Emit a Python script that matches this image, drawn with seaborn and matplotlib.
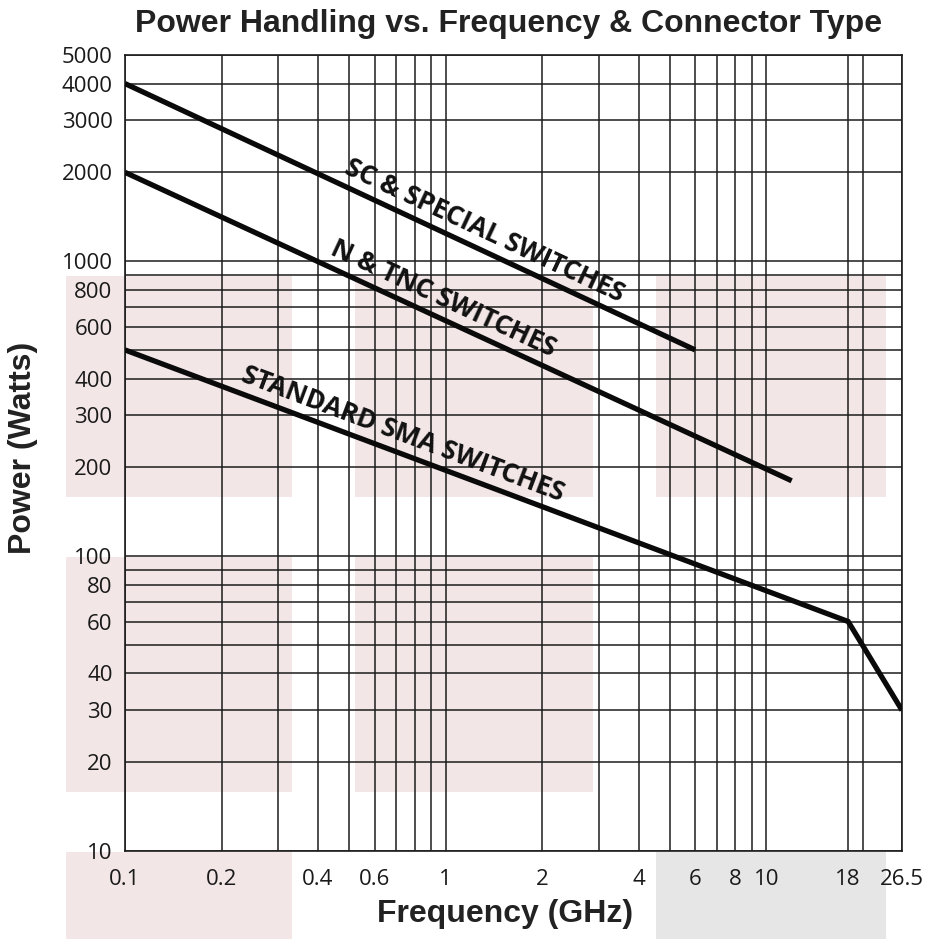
import numpy as np
import pandas as pd
import matplotlib
matplotlib.use("Agg")
import matplotlib.pyplot as plt
from matplotlib.patches import Rectangle
from matplotlib.ticker import FixedLocator, NullLocator, FixedFormatter
import seaborn as sns

# ---- data ----
series_names = ["SC & SPECIAL SWITCHES", "N & TNC SWITCHES", "STANDARD SMA SWITCHES"]
sc_freq = [0.1, 6]
sc_power = [4000, 500]
n_freq = [0.1, 12]
n_power = [2000, 180]
sma_freq = [0.1, 18, 26.5]
sma_power = [500, 60, 30]

x_ticks = [0.1, 0.2, 0.4, 0.6, 1, 2, 4, 6, 8, 10, 18, 26.5]
x_tick_labels = ["0.1", "0.2", "0.4", "0.6", "1", "2", "4", "6", "8", "10", "18", "26.5"]
x_grid = [0.1, 0.2, 0.3, 0.4, 0.5, 0.6, 0.7, 0.8, 0.9, 1, 2, 3, 4, 5, 6, 7, 8, 9, 10, 18, 20, 26.5]
y_ticks = [10, 20, 30, 40, 60, 80, 100, 200, 300, 400, 600, 800, 1000, 2000, 3000, 4000, 5000]
y_tick_labels = [str(v) for v in y_ticks]
y_grid = [10, 20, 30, 40, 50, 60, 70, 80, 90, 100, 200, 300, 400, 500, 600, 700, 800, 900,
          1000, 2000, 3000, 4000, 5000]

df = pd.concat([
    pd.DataFrame({"series": series_names[0], "freq": sc_freq, "power": sc_power}),
    pd.DataFrame({"series": series_names[1], "freq": n_freq, "power": n_power}),
    pd.DataFrame({"series": series_names[2], "freq": sma_freq, "power": sma_power}),
], ignore_index=True)

# ---- figure ----
sns.set_theme(style="white")
plt.rcParams["font.family"] = ["Open Sans", "DejaVu Sans"]

W, H = 933, 939
fig = plt.figure(figsize=(W / 100, H / 100), dpi=100)
fig.patch.set_facecolor("white")

def px_rect(x0, x1, y0, y1, color):
    r = Rectangle((x0 / W, 1 - y1 / H), (x1 - x0) / W, (y1 - y0) / H,
                  transform=fig.transFigure, facecolor=color, edgecolor="none", zorder=-5)
    fig.add_artist(r)

pink = "#f3e6e6"
gray = "#e6e6e6"
px_rect(66, 292, 276, 497, pink)
px_rect(66, 292, 557, 792, pink)
px_rect(66, 292, 852, 939, pink)
px_rect(355, 593, 276, 497, pink)
px_rect(355, 593, 557, 792, pink)
px_rect(656, 886, 276, 497, pink)
px_rect(656, 886, 852, 939, gray)

ax = fig.add_axes([125 / W, 1 - 851 / H, (902 - 125) / W, (851 - 55) / H])
ax.set_facecolor("none")
ax.set_xscale("log")
ax.set_yscale("log")
ax.set_xlim(0.1, 26.5)
ax.set_ylim(10, 5000)

# grid
for xv in x_grid:
    ax.axvline(xv, color="#1c1c1c", lw=1.1, zorder=1)
for yv in y_grid:
    ax.axhline(yv, color="#1c1c1c", lw=1.1, zorder=1)

sns.lineplot(data=df, x="freq", y="power", hue="series", units="series", estimator=None,
             palette=["#0a0a0a"] * 3, linewidth=3.8, legend=False, ax=ax, zorder=3,
             sort=False)
for ln in ax.lines[-3:]:
    ln.set_solid_capstyle("butt")
    ln.set_solid_joinstyle("miter")

ax.xaxis.set_major_locator(FixedLocator(x_ticks))
ax.xaxis.set_major_formatter(FixedFormatter(x_tick_labels))
ax.xaxis.set_minor_locator(NullLocator())
ax.yaxis.set_major_locator(FixedLocator(y_ticks))
ax.yaxis.set_major_formatter(FixedFormatter(y_tick_labels))
ax.yaxis.set_minor_locator(NullLocator())
ax.tick_params(axis="both", length=0, labelsize=16, colors="#1a1a1a")
ax.tick_params(axis="x", pad=13)
ax.tick_params(axis="y", pad=9)
for sp in ax.spines.values():
    sp.set_color("#1c1c1c")
    sp.set_linewidth(1.2)

ax.set_xlabel("Frequency (GHz)", fontsize=23, fontweight="bold", family="Liberation Sans",
              color="#222222")
ax.set_ylabel("Power (Watts)", fontsize=23, fontweight="bold", family="Liberation Sans",
              color="#222222")
ax.xaxis.set_label_coords(0.489, -0.06)
ax.yaxis.set_label_coords(-0.112, 0.507)
fig.text(0.545, 1 - 24 / H, "Power Handling vs. Frequency & Connector Type", fontsize=23,
         fontweight="bold", family="Liberation Sans", color="#222222", ha="center", va="center")

# line labels
fig.canvas.draw()
label_at = {series_names[0]: 1.25, series_names[1]: 0.93, series_names[2]: 0.70}
for name, fx, fy in [(series_names[0], sc_freq, sc_power),
                     (series_names[1], n_freq, n_power),
                     (series_names[2], sma_freq, sma_power)]:
    f0 = label_at[name]
    lx, ly = np.log10(fx), np.log10(fy)
    p0 = 10 ** np.interp(np.log10(f0), lx, ly)
    d0 = ax.transData.transform((fx[0], fy[0]))
    d1 = ax.transData.transform((fx[1], fy[1]))
    ang = np.degrees(np.arctan2(d1[1] - d0[1], d1[0] - d0[0]))
    th = np.radians(ang)
    off = 4
    ax.annotate(name, xy=(f0, p0), xytext=(-off * np.sin(th), off * np.cos(th)),
                textcoords="offset points", rotation=ang, rotation_mode="anchor",
                ha="center", va="bottom", fontsize=19, fontweight="bold",
                color="#111111", zorder=4)

fig.savefig("out.png", dpi=100)
